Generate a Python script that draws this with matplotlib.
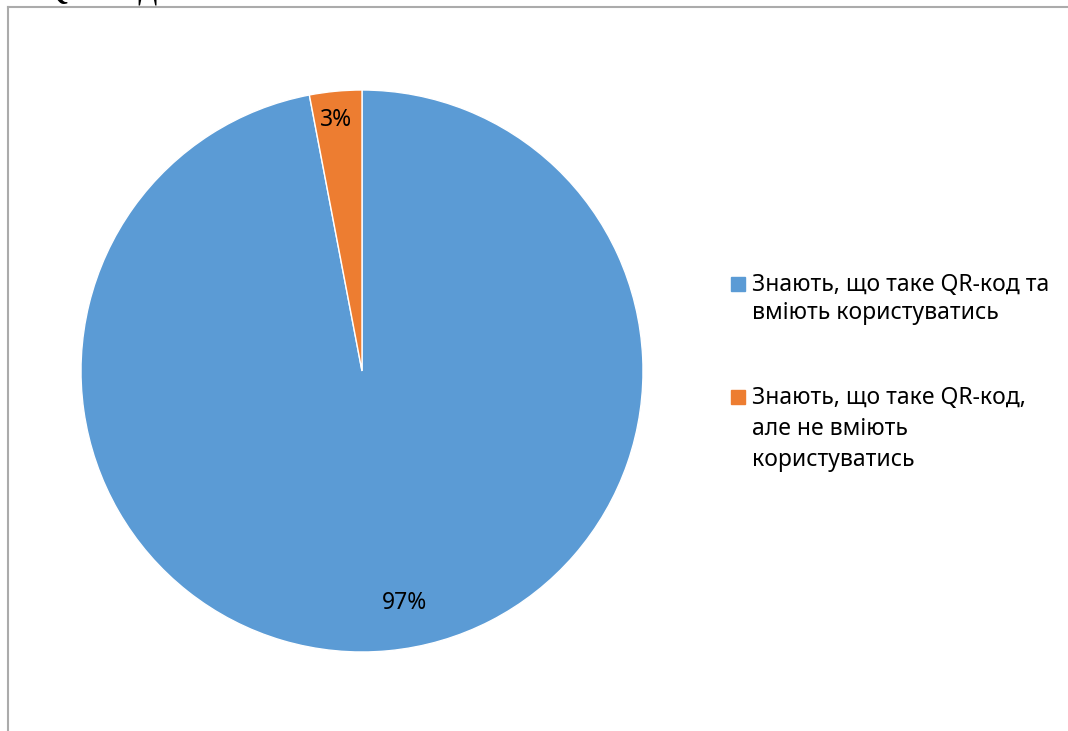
import matplotlib
matplotlib.use('Agg')
import matplotlib.pyplot as plt
from matplotlib.lines import Line2D
from matplotlib.patches import Rectangle

plt.rcParams['font.family'] = ['Noto Sans', 'DejaVu Sans']

labels = [['Знають, що таке QR-код та', 'вміють користуватись'],
          ['Знають, що таке QR-код,', 'але не вміють', 'користуватись']]
values = [97, 3]
colors = ['#5B9BD5', '#ED7D31']
title = 'QR-код'

W, H = 1068, 731
fig = plt.figure(figsize=(W / 100, H / 100), dpi=100)
px = lambda x, y: (x / W, 1 - y / H)

# pie centred at (362, 371) px, radius 281 px
ax = fig.add_axes([81 / W, (H - 652) / H, 562 / W, 562 / H])
wedges, texts, autotexts = ax.pie(
    values, colors=colors, startangle=90, counterclock=False,
    autopct='%d%%', pctdistance=0.87, radius=1,
    wedgeprops=dict(edgecolor='white', linewidth=1),
    textprops=dict(fontsize=16.5, color='#000000'))
ax.set_xlim(-1, 1)
ax.set_ylim(-1, 1)
ax.set_aspect('equal')
ax.axis('off')

# label placement like Excel's best fit
label_pos = [(0.151, -0.824), (-0.0925, 0.893)]
for t, p in zip(autotexts, label_pos):
    t.set_position(p)
    t.set_va('center')

# chart border (cut off at right and bottom)
fig.add_artist(Line2D([px(8, 7)[0], 1.0], [px(8, 7)[1]] * 2,
                      transform=fig.transFigure, color='#ABABAB', lw=1.5))
fig.add_artist(Line2D([px(8, 7)[0]] * 2, [px(8, 7)[1], 0.0],
                      transform=fig.transFigure, color='#ABABAB', lw=1.5))

# cut-off title
fig.text(40 / W, 1 + 3 / H, title, fontsize=27, family='Liberation Serif',
         va='baseline', ha='left')

# legend
baselines = [[291, 319], [404, 435, 466]]
for lines, col, ys in zip(labels, colors, baselines):
    fig.add_artist(Rectangle(px(731, ys[0]), 14 / W, 14 / H,
                             transform=fig.transFigure, color=col))
    for line, y in zip(lines, ys):
        fig.text(*px(752, y), line, fontsize=16.5, va='baseline', ha='left')

fig.savefig('out.png', dpi=100)
